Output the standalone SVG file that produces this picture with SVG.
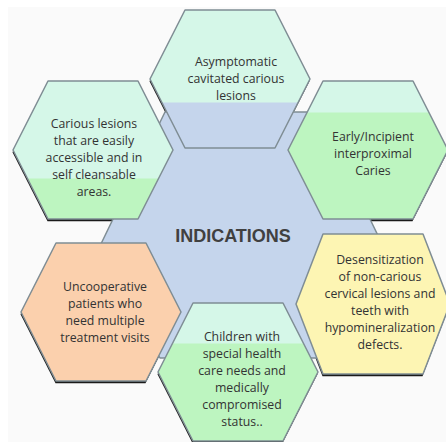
<svg xmlns="http://www.w3.org/2000/svg" width="446" height="442" viewBox="0 0 446 442">
<defs>
<style>
.hex{stroke:#7f8d94;stroke-width:1.5;stroke-linejoin:round}
.sh{fill:#1a1a1a}
.t{font-family:"Open Sans","Liberation Sans",sans-serif;font-size:12.3px;fill:#333333;text-anchor:middle}
.title{font-family:"Liberation Sans",Arial,sans-serif;font-size:18px;font-weight:bold;fill:#404040;text-anchor:middle}
</style>
<linearGradient id="gTop" gradientUnits="userSpaceOnUse" x1="0" y1="102" x2="0" y2="103"><stop offset="0" stop-color="#d5f7e8"/><stop offset="1" stop-color="#c5d5ec"/></linearGradient>
<linearGradient id="gLeft" gradientUnits="userSpaceOnUse" x1="0" y1="178" x2="0" y2="179"><stop offset="0" stop-color="#d5f7e8"/><stop offset="1" stop-color="#bdf5c0"/></linearGradient>
<linearGradient id="gRight" gradientUnits="userSpaceOnUse" x1="0" y1="112" x2="0" y2="113"><stop offset="0" stop-color="#d5f7e8"/><stop offset="1" stop-color="#bdf5c0"/></linearGradient>
<linearGradient id="gChild" gradientUnits="userSpaceOnUse" x1="0" y1="343" x2="0" y2="344"><stop offset="0" stop-color="#d5f7e8"/><stop offset="1" stop-color="#bdf5c0"/></linearGradient>
</defs>
<rect x="0" y="0" width="446" height="442" fill="#ffffff"/>
<rect x="8" y="7" width="438" height="435" fill="#fafafa"/>

<g id="shadows" transform="translate(-0.5,2.2)">
<polygon class="sh" points="185,10 275,10 310,79 275,148 185,148 150,79"/>
<polygon class="sh" points="48,81 138,81 173,150 138,219 48,219 13,150"/>
<polygon class="sh" points="323,81 413,81 448,150 413,219 323,219 288,150"/>
<polygon class="sh" points="56,243 146,243 181,312 146,381 56,381 21,312"/>
<polygon class="sh" points="193,303 283,303 318,372 283,441 193,441 158,372"/>
<polygon class="sh" points="323,234 423,234 450,304 423,374 323,374 296,304"/>
</g>

<g id="connectors"></g>

<g id="center">
<polygon class="hex" fill="#c5d5ec" points="165,112 318,112 385,250 322,358 160,358 98,250"/>
<text class="title" x="233" y="242">INDICATIONS</text>
</g>

<g id="n-asymptomatic">
<polygon class="hex" fill="url(#gTop)" points="185,10 275,10 310,79 275,148 185,148 150,79"/>
<text class="t" x="236" y="66">Asymptomatic</text>
<text class="t" x="236" y="83">cavitated carious</text>
<text class="t" x="236" y="100">lesions</text>
</g>

<g id="n-carious">
<polygon class="hex" fill="url(#gLeft)" points="48,81 138,81 173,150 138,219 48,219 13,150"/>
<text class="t" x="94" y="128">Carious lesions</text>
<text class="t" x="94" y="145">that are easily</text>
<text class="t" x="94" y="162">accessible and in</text>
<text class="t" x="94" y="179">self cleansable</text>
<text class="t" x="94" y="196">areas.</text>
</g>

<g id="n-early">
<polygon class="hex" fill="url(#gRight)" points="323,81 413,81 448,150 413,219 323,219 288,150"/>
<text class="t" x="373" y="141">Early/Incipient</text>
<text class="t" x="373" y="158">interproximal</text>
<text class="t" x="373" y="175">Caries</text>
</g>

<g id="n-uncooperative">
<polygon class="hex" fill="#fbd0ad" points="56,243 146,243 181,312 146,381 56,381 21,312"/>
<text class="t" x="105" y="291">Uncooperative</text>
<text class="t" x="105" y="308">patients who</text>
<text class="t" x="105" y="325">need multiple</text>
<text class="t" x="105" y="342">treatment visits</text>
</g>

<g id="n-children">
<polygon class="hex" fill="url(#gChild)" points="193,303 283,303 318,372 283,441 193,441 158,372"/>
<text class="t" x="242" y="341">Children with</text>
<text class="t" x="242" y="358">special health</text>
<text class="t" x="242" y="375">care needs and</text>
<text class="t" x="242" y="392">medically</text>
<text class="t" x="242" y="409">compromised</text>
<text class="t" x="242" y="426">status..</text>
</g>

<g id="n-desensitization">
<polygon class="hex" fill="#fdf5b3" points="323,234 423,234 450,304 423,374 323,374 296,304"/>
<text class="t" x="380" y="264">Desensitization</text>
<text class="t" x="380" y="281">of non-carious</text>
<text class="t" x="380" y="298">cervical lesions and</text>
<text class="t" x="380" y="315">teeth with</text>
<text class="t" x="380" y="332">hypomineralization</text>
<text class="t" x="380" y="349">defects.</text>
</g>
</svg>
